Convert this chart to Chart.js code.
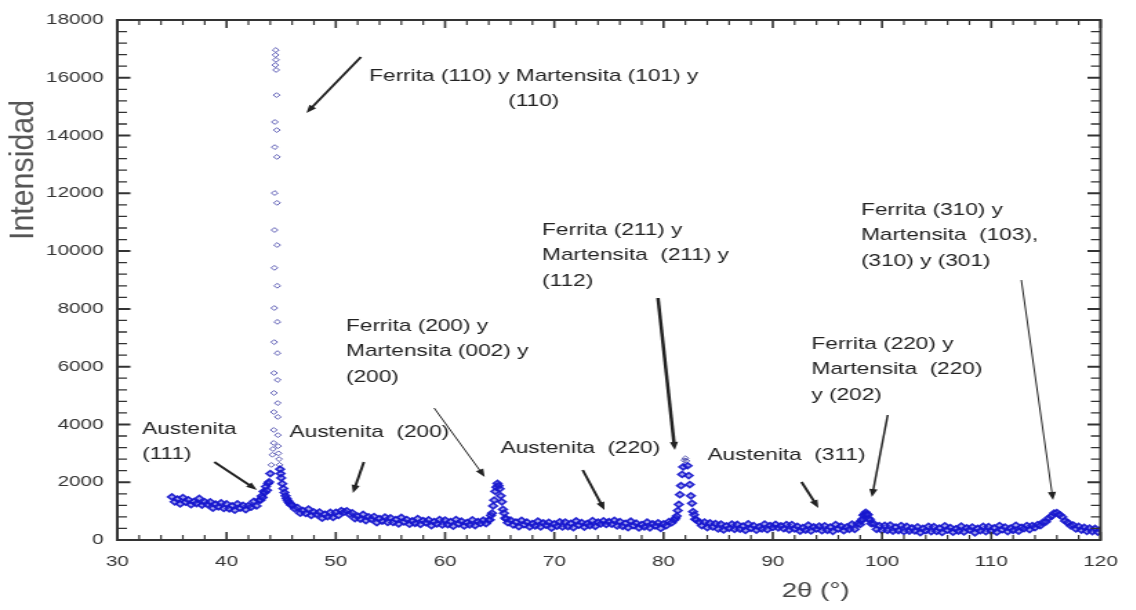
<!DOCTYPE html>
<html>
<head>
<meta charset="utf-8">
<title>Difractograma</title>
<script src="https://cdn.jsdelivr.net/npm/chart.js@4.4.1/dist/chart.umd.min.js"></script>
<style>
  html, body { margin: 0; padding: 0; background: #fff; overflow: hidden; }
  #wrap { width: 1136px; height: 610px; overflow: hidden; }
  /* the original figure is stretched sideways, so is this one */
  #xrd { transform: scaleX(1.38); transform-origin: 0 0; }
</style>
</head>
<body>
<div id="wrap"><canvas id="xrd" width="823" height="610"></canvas></div>
<script>
// 2theta (deg) and counts
const twoTheta = [
  35,35.25,35.5,35.75,36,36.25,36.5,36.75,37,37.25,37.5,37.75,38,38.25,38.5,38.75,39,39.25,39.5,39.75,
  40,40.25,40.5,40.75,41,41.25,41.5,41.75,42,42.25,42.5,42.75,43,
  43.1,43.2,43.3,43.4,43.5,43.6,43.7,43.8,43.9,44,44.1,44.2,44.25,
  44.31,44.32,44.33,44.34,44.35,44.36,44.37,44.38,44.39,44.4,44.41,44.42,
  44.46,44.48,44.5,44.52,44.54,
  44.58,44.6,44.61,44.62,44.63,44.64,44.65,44.66,44.67,44.68,44.69,44.7,
  44.72,44.75,44.8,44.85,44.9,44.95,45,45.1,45.2,45.3,45.4,45.5,45.6,45.7,45.8,45.9,46,
  46.25,46.5,46.75,47,47.25,47.5,47.75,48,48.25,48.5,48.75,49,49.25,49.5,49.75,
  50,50.25,50.5,50.75,51,51.25,51.5,51.75,52,52.25,52.5,52.75,53,53.25,53.5,53.75,
  54,54.25,54.5,54.75,55,55.25,55.5,55.75,56,56.25,56.5,56.75,57,57.25,57.5,57.75,
  58,58.25,58.5,58.75,59,59.25,59.5,59.75,60,60.25,60.5,60.75,61,61.25,61.5,61.75,
  62,62.25,62.5,62.75,63,63.25,63.5,63.75,
  64,64.1,64.2,64.3,64.4,64.5,64.6,64.7,64.8,64.9,65,65.1,65.2,65.3,65.4,65.5,65.6,65.75,
  66,66.25,66.5,66.75,67,67.25,67.5,67.75,68,68.25,68.5,68.75,69,69.25,69.5,69.75,
  70,70.25,70.5,70.75,71,71.25,71.5,71.75,72,72.25,72.5,72.75,73,73.25,73.5,73.75,
  74,74.25,74.5,74.75,75,75.25,75.5,75.75,76,76.25,76.5,76.75,77,77.25,77.5,77.75,
  78,78.25,78.5,78.75,79,79.25,79.5,79.75,80,80.25,80.5,80.75,
  81,81.1,81.2,81.3,81.4,81.5,81.6,81.7,81.8,81.9,82,82.1,82.2,82.3,82.4,82.5,82.6,82.7,82.8,82.9,83,
  83.25,83.5,83.75,84,84.25,84.5,84.75,85,85.25,85.5,85.75,86,86.25,86.5,86.75,
  87,87.25,87.5,87.75,88,88.25,88.5,88.75,89,89.25,89.5,89.75,90,90.25,90.5,90.75,
  91,91.25,91.5,91.75,92,92.25,92.5,92.75,93,93.25,93.5,93.75,94,94.25,94.5,94.75,
  95,95.25,95.5,95.75,96,96.25,96.5,96.75,97,97.25,97.5,97.75,
  98,98.1,98.2,98.3,98.4,98.5,98.6,98.7,98.8,98.9,99,
  99.25,99.5,99.75,100,100.25,100.5,100.75,101,101.25,101.5,101.75,102,102.25,102.5,102.75,
  103,103.25,103.5,103.75,104,104.25,104.5,104.75,105,105.25,105.5,105.75,106,106.25,106.5,106.75,
  107,107.25,107.5,107.75,108,108.25,108.5,108.75,109,109.25,109.5,109.75,110,110.25,110.5,110.75,
  111,111.25,111.5,111.75,112,112.25,112.5,112.75,113,113.25,113.5,113.75,114,
  114.25,114.5,114.75,115,115.25,115.5,115.75,116,116.25,116.5,116.75,117,117.25,117.5,117.75,
  118,118.25,118.5,118.75,119,119.25,119.5,119.75,120
];
const intensity = [
  1490,1320,1420,1250,1470,1310,1390,1220,1330,1260,1440,1210,1320,1230,1320,1100,1240,1150,1285,1090,
  1250,1080,1185,1030,1250,1100,1200,1050,1190,1135,1340,1180,1380,
  1380,1520,1470,1680,1640,1850,1720,1960,2010,2300,2600,2950,3150,
  3360,3810,4430,5090,5780,6850,8030,9420,10730,12010,13600,14470,
  16440,16790,16960,16620,16270,
  15400,14190,13260,11670,10210,8800,7550,6470,5540,4740,4260,3630,
  3250,3000,2800,2600,2450,2300,2150,1950,1780,1640,1530,1440,1370,1310,1260,1215,1210,
  1080,1120,930,1020,920,1070,850,970,885,970,755,890,805,955,780,
  960,850,1020,970,1010,890,940,740,820,725,885,670,800,720,810,600,
  740,655,795,610,770,605,710,555,780,625,710,545,660,575,740,540,
  675,600,695,495,640,555,705,520,690,530,635,480,710,560,650,485,
  605,525,695,500,640,575,685,570,
  690,700,850,930,1180,1380,1680,1830,1960,1880,1770,1530,1320,1060,930,760,730,600,
  690,520,620,460,680,528,616,453,570,488,655,453,590,518,615,413,
  560,480,630,450,620,462,575,427,660,513,605,448,570,495,670,475,
  620,558,666,540,635,545,680,485,640,475,580,425,650,496,582,418,
  535,453,622,421,560,492,596,402,560,495,640,600,
  700,760,830,1020,1230,1570,1880,2270,2530,2760,2830,2740,2570,2230,1920,1530,1270,980,870,720,700,
  620,500,620,430,590,450,570,380,553,347,491,405,552,370,538,
  375,483,330,558,405,496,337,458,380,554,358,502,435,542,420,490,
  390,533,347,531,385,472,310,427,345,513,312,451,380,480,321,493,
  335,448,300,533,385,478,322,446,370,548,370,560,
  540,660,720,860,890,960,900,870,740,690,570,
  560,370,495,335,505,330,515,310,447,323,500,295,472,310,417,
  315,453,252,401,320,470,290,460,300,410,260,490,340,430,270,390,
  310,480,280,420,350,450,250,400,320,470,290,462,305,417,270,502,
  355,447,290,412,335,510,305,440,395,502,360,500,430,
  530,500,620,630,760,820,930,950,870,800,660,610,500,520,380,
  470,345,440,300,410,290,400,275,360
];

const xTicks = [30, 40, 50, 60, 70, 80, 90, 100, 110, 120];
const yTicks = [0, 2000, 4000, 6000, 8000, 10000, 12000, 14000, 16000, 18000];

// peak labels: text anchor and arrow in data units
const peakLabels = [
  { lines: ['Ferrita (110) y Martensita (101) y', '(110)'], at: [68.11, 16062], align: 'center',
    arrow: [[52.30, 16719], [47.31, 14781]], w: 2 },
  { lines: ['Austenita', '(111)'], at: [32.27, 3842], arrow: [[38.88, 2700], [42.78, 1731]], w: 2 },
  { lines: ['Austenita  (200)'], at: [45.77, 3738], arrow: [[52.57, 2700], [51.57, 1627]], w: 2 },
  { lines: ['Ferrita (200) y', 'Martensita (002) y', '(200)'], at: [50.94, 7408],
    arrow: [[59.00, 4569], [63.63, 2181]], w: 1 },
  { lines: ['Austenita  (220)'], at: [65.08, 3185], arrow: [[72.60, 2423], [74.59, 1038]], w: 2 },
  { lines: ['Ferrita (211) y', 'Martensita  (211) y', '(112)'], at: [68.88, 10731],
    arrow: [[79.49, 8377], [81.03, 3115]], w: 2.5 },
  { lines: ['Austenita  (311)'], at: [84.02, 2942], arrow: [[92.63, 2008], [94.17, 1108]], w: 2 },
  { lines: ['Ferrita (220) y', 'Martensita  (220)', 'y (202)'], at: [93.54, 6785],
    arrow: [[100.52, 4327], [99.07, 1488]], w: 1.5 },
  { lines: ['Ferrita (310) y', 'Martensita  (103),', '(310) y (301)'], at: [98.07, 11423],
    arrow: [[112.75, 9000], [115.65, 1385]], w: 1 }
];

const FONT = '"Liberation Sans", Arial, sans-serif';

function drawArrow(ctx, x0, y0, x1, y1, w) {
  const ang = Math.atan2(y1 - y0, x1 - x0);
  const hl = 8, hw = 3;
  ctx.lineWidth = w;
  ctx.beginPath();
  ctx.moveTo(x0, y0);
  ctx.lineTo(x1 - Math.cos(ang) * hl * 0.8, y1 - Math.sin(ang) * hl * 0.8);
  ctx.stroke();
  ctx.beginPath();
  ctx.moveTo(x1, y1);
  ctx.lineTo(x1 - Math.cos(ang) * hl - Math.sin(ang) * hw, y1 - Math.sin(ang) * hl + Math.cos(ang) * hw);
  ctx.lineTo(x1 - Math.cos(ang) * hl + Math.sin(ang) * hw, y1 - Math.sin(ang) * hl - Math.cos(ang) * hw);
  ctx.closePath();
  ctx.fill();
}

const framePlugin = {
  id: 'frame',
  afterDraw(chart) {
    const { ctx, chartArea: a, scales: { x, y } } = chart;
    ctx.save();
    ctx.strokeStyle = '#333';
    ctx.fillStyle = '#333';
    ctx.lineWidth = 2;
    ctx.strokeRect(a.left, a.top, a.right - a.left, a.bottom - a.top);

    // inward ticks on all four sides
    for (let v = 30; v <= 120; v += 2) {
      const px = x.getPixelForValue(v);
      const len = v % 10 === 0 ? 8 : 5;
      ctx.lineWidth = v % 10 === 0 ? 1.6 : 1.2;
      ctx.beginPath();
      ctx.moveTo(px, a.bottom); ctx.lineTo(px, a.bottom - len);
      ctx.moveTo(px, a.top); ctx.lineTo(px, a.top + len);
      ctx.stroke();
    }
    for (let v = 0; v <= 18000; v += 400) {
      const py = y.getPixelForValue(v);
      const len = v % 2000 === 0 ? 9.5 : 7;
      ctx.lineWidth = v % 2000 === 0 ? 2 : 1.3;
      ctx.beginPath();
      ctx.moveTo(a.left, py); ctx.lineTo(a.left + len, py);
      ctx.moveTo(a.right, py); ctx.lineTo(a.right - len, py);
      ctx.stroke();
    }

    // axis titles
    ctx.fillStyle = '#555';
    ctx.save();
    ctx.translate(24, 170);
    ctx.rotate(-Math.PI / 2);
    ctx.scale(1.32, 1);
    ctx.font = '23px ' + FONT;
    ctx.textAlign = 'center';
    ctx.textBaseline = 'alphabetic';
    ctx.fillText('Intensidad', 0, 0);
    ctx.restore();
    ctx.fillStyle = '#444';
    ctx.font = '20px ' + FONT;
    ctx.textAlign = 'center';
    ctx.textBaseline = 'middle';
    ctx.fillText('2θ (°)', 591, 591);

    // peak labels
    ctx.fillStyle = '#222';
    ctx.strokeStyle = '#222';
    ctx.font = '16.4px ' + FONT;
    ctx.textBaseline = 'middle';
    peakLabels.forEach(p => {
      const tx = x.getPixelForValue(p.at[0]);
      const ty = y.getPixelForValue(p.at[1]);
      ctx.textAlign = p.align || 'left';
      p.lines.forEach((s, i) => ctx.fillText(s, tx, ty + i * 25.5));
      const [p0, p1] = p.arrow;
      drawArrow(ctx, x.getPixelForValue(p0[0]), y.getPixelForValue(p0[1]),
        x.getPixelForValue(p1[0]), y.getPixelForValue(p1[1]), p.w);
    });
    ctx.restore();
  }
};

const points = twoTheta.map((t, i) => ({ x: t, y: intensity[i] }));

// the dense low part of the scan prints as a solid blue band, the sparse peak points look paler
const isDense = c => c.raw && c.raw.y < 2600;

const ctx = document.getElementById('xrd').getContext('2d');
const xrdChart = new Chart(ctx, {
  type: 'scatter',
  data: {
    datasets: [{
      data: points,
      pointStyle: 'rectRot',
      pointRadius: c => isDense(c) ? 2.9 : 2.4,
      borderWidth: c => isDense(c) ? 1.7 : 1,
      borderColor: c => isDense(c) ? 'rgba(22, 22, 205, 0.9)' : 'rgba(70, 70, 170, 0.85)',
      backgroundColor: c => isDense(c) ? 'rgba(60, 60, 215, 0.45)' : 'rgba(255, 255, 255, 0)'
    }]
  },
  options: {
    responsive: false,
    animation: false,
    events: [],
    layout: { padding: { left: 0, right: 19, top: 20, bottom: 0 } },
    plugins: { legend: { display: false }, tooltip: { enabled: false } },
    scales: {
      x: {
        type: 'linear', min: 30, max: 120,
        afterFit: s => { s.height = 70; },
        afterBuildTicks: s => { s.ticks = xTicks.map(v => ({ value: v })); },
        grid: { display: false, drawTicks: false },
        border: { display: false },
        ticks: { padding: 13, color: '#333', font: { size: 15, family: FONT },
                 callback: v => String(v), maxRotation: 0 }
      },
      y: {
        type: 'linear', min: 0, max: 18000,
        afterFit: s => { s.width = 85; },
        afterBuildTicks: s => { s.ticks = yTicks.map(v => ({ value: v })); },
        grid: { display: false, drawTicks: false },
        border: { display: false },
        ticks: { padding: 10, color: '#333', font: { size: 15, family: FONT },
                 callback: v => String(v) }
      }
    }
  },
  plugins: [framePlugin]
});
</script>
</body>
</html>
